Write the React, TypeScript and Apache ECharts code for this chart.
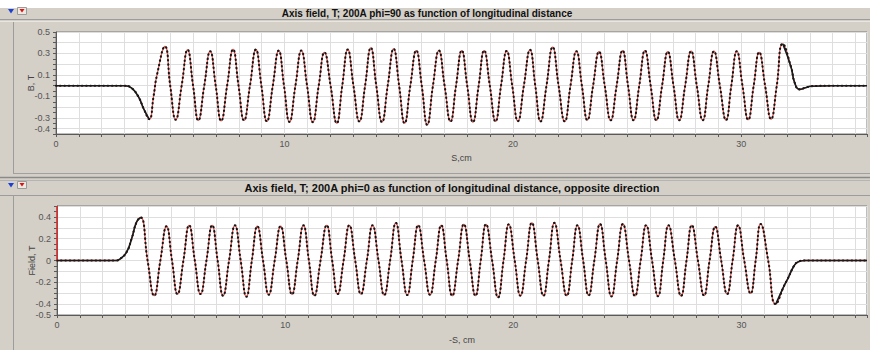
import React, { useEffect, useRef } from 'react';
import * as echarts from 'echarts';

const topTitle = 'Axis field, T; 200A phi=90 as function of longitudinal distance';
const bottomTitle = 'Axis field, T; 200A phi=0 as function of longitudinal distance, opposite direction';
const topYName = 'B, T';
const bottomYName = 'Field, T';
const topXName = 'S,cm';
const bottomXName = '-S, cm';
const xTickLabels = [0, 10, 20, 30];
const topYTickLabels = [0.5, 0.3, 0.1, -0.1, -0.3, -0.4];
const bottomYTickLabels = [0.4, 0.2, 0, -0.2, -0.4, -0.5];

// [S (cm), B (T)]
const topField: [number, number][] = [
  [0, 0], [1, 0], [2, 0], [3, 0], [3.3, -0.02], [3.6, -0.1], [3.85, -0.22], [4.08, -0.311], [4.27, -0.1], [4.42, 0.1], [4.77, 0.365],
  [5.0, 0], [5.24, -0.317], [5.5, 0], [5.76, 0.334],
  [6.0, 0], [6.23, -0.323], [6.49, 0], [6.75, 0.321],
  [6.99, 0], [7.23, -0.327], [7.49, 0], [7.75, 0.337],
  [7.99, 0], [8.23, -0.323], [8.49, 0], [8.75, 0.337],
  [8.99, 0], [9.23, -0.333], [9.49, 0], [9.75, 0.327],
  [9.98, 0], [10.22, -0.337], [10.48, 0], [10.74, 0.327],
  [10.99, 0], [11.24, -0.339], [11.5, 0], [11.75, 0.31],
  [12.02, 0], [12.29, -0.349], [12.53, 0], [12.77, 0.337],
  [13.02, 0], [13.28, -0.333], [13.53, 0], [13.78, 0.353],
  [14.02, 0], [14.27, -0.339], [14.52, 0], [14.78, 0.343],
  [15.02, 0], [15.26, -0.349], [15.51, 0], [15.77, 0.327],
  [16.01, 0], [16.25, -0.364], [16.5, 0], [16.76, 0.327],
  [17.01, 0], [17.27, -0.333], [17.51, 0], [17.76, 0.327],
  [18.0, 0], [18.25, -0.339], [18.5, 0], [18.74, 0.327],
  [18.99, 0], [19.24, -0.333], [19.48, 0], [19.73, 0.324],
  [19.97, 0], [20.22, -0.33], [20.48, 0], [20.75, 0.334],
  [20.98, 0], [21.21, -0.333], [21.47, 0], [21.74, 0.359],
  [22.0, 0], [22.27, -0.333], [22.52, 0], [22.78, 0.321],
  [23.02, 0], [23.26, -0.32], [23.51, 0], [23.77, 0.316],
  [24.02, 0], [24.28, -0.322], [24.54, 0], [24.8, 0.327],
  [25.04, 0], [25.28, -0.322], [25.53, 0], [25.78, 0.327],
  [26.03, 0], [26.28, -0.322], [26.53, 0], [26.78, 0.316],
  [27.03, 0], [27.28, -0.322], [27.54, 0], [27.8, 0.321],
  [28.05, 0], [28.31, -0.322], [28.55, 0], [28.8, 0.321],
  [29.06, 0], [29.33, -0.32], [29.56, 0], [29.8, 0.321],
  [30.05, 0], [30.3, -0.317], [30.54, 0], [30.78, 0.311],
  [31.04, 0], [31.3, -0.311], [31.55, 0], [31.81, 0.39],
  [32.18, 0.17], [32.33, 0.03], [32.54, -0.034], [32.8, -0.02], [33.05, -0.005], [34, 0], [35.5, 0],
];

// [-S (cm), Field (T)]
const bottomField: [number, number][] = [
  [0, 0], [1, 0], [2, 0], [2.6, 0], [2.77, 0.015], [3.05, 0.077], [3.27, 0.2], [3.49, 0.354], [3.67, 0.395],
  [3.97, 0], [4.26, -0.323], [4.53, 0], [4.8, 0.314],
  [5.04, 0], [5.28, -0.308], [5.54, 0], [5.79, 0.323],
  [6.04, 0], [6.29, -0.308], [6.55, 0], [6.8, 0.323],
  [7.04, 0], [7.28, -0.323], [7.54, 0], [7.8, 0.323],
  [8.05, 0], [8.3, -0.332], [8.54, 0], [8.78, 0.314],
  [9.03, 0], [9.28, -0.314], [9.54, 0], [9.8, 0.314],
  [10.05, 0], [10.3, -0.31], [10.55, 0], [10.8, 0.323],
  [11.04, 0], [11.28, -0.323], [11.55, 0], [11.82, 0.323],
  [12.06, 0], [12.3, -0.308], [12.56, 0], [12.81, 0.323],
  [13.07, 0], [13.32, -0.308], [13.58, 0], [13.83, 0.323],
  [14.09, 0], [14.34, -0.317], [14.6, 0], [14.85, 0.345],
  [15.1, 0], [15.35, -0.317], [15.59, 0], [15.83, 0.323],
  [16.09, 0], [16.35, -0.315], [16.6, 0], [16.84, 0.323],
  [17.08, 0], [17.32, -0.323], [17.58, 0], [17.83, 0.332],
  [18.09, 0], [18.34, -0.323], [18.57, 0], [18.8, 0.332],
  [19.07, 0], [19.33, -0.339], [19.57, 0], [19.8, 0.332],
  [20.06, 0], [20.31, -0.323], [20.56, 0], [20.81, 0.345],
  [21.07, 0], [21.32, -0.323], [21.56, 0], [21.8, 0.345],
  [22.07, 0], [22.34, -0.323], [22.58, 0], [22.81, 0.323],
  [23.06, 0], [23.3, -0.32], [23.55, 0], [23.8, 0.335],
  [24.05, 0], [24.3, -0.33], [24.55, 0], [24.8, 0.335],
  [25.07, 0], [25.33, -0.325], [25.58, 0], [25.82, 0.323],
  [26.08, 0], [26.34, -0.328], [26.57, 0], [26.8, 0.323],
  [27.08, 0], [27.35, -0.325], [27.59, 0], [27.82, 0.323],
  [28.09, 0], [28.36, -0.322], [28.6, 0], [28.85, 0.31],
  [29.11, 0], [29.37, -0.308], [29.61, 0], [29.85, 0.323],
  [30.12, 0], [30.4, -0.302], [30.62, 0], [30.84, 0.335],
  [31.17, 0], [31.5, -0.4], [31.87, -0.23], [32.02, -0.17], [32.31, -0.046], [32.46, -0.015], [32.75, 0], [34, 0], [35.5, 0],
];

// S ranges where the trace is drawn as a solid black line (no fit overlay)
const topSolidBefore = 4.08;
const topSolidAfter = 31.81;
const bottomSolidBefore = 3.67;
const bottomSolidAfter = 31.5;

const FONT = "'Liberation Sans', Arial, sans-serif";
const TITLE_FONT = "'Liberation Sans Narrow', 'Arial Narrow', 'Liberation Sans', sans-serif";
const PANEL = '#d4d0c8';
const GRIDLINE = '#dedede';
const AXIS = '#5a5a5a';

const near = (list: number[], v: number) => list.find((l) => Math.abs(l - v) < 1e-6);

function xAxis(gridIndex: number, name: string, gap: number) {
  return {
    type: 'value',
    gridIndex,
    min: 0,
    max: 35.5,
    interval: 1,
    name,
    nameLocation: 'middle',
    nameGap: gap,
    nameMoveOverlap: false,
    nameTextStyle: { fontSize: 9, color: '#444', fontFamily: FONT },
    axisLine: { show: true, onZero: false, lineStyle: { color: AXIS, width: 1 } },
    axisTick: { show: true, length: 3, lineStyle: { color: AXIS } },
    axisLabel: {
      fontSize: 9,
      color: '#555',
      fontFamily: FONT,
      margin: 5,
      formatter: (v: number) => {
        const l = near(xTickLabels, v);
        return l === undefined ? '' : String(l);
      },
    },
    splitLine: { show: true, lineStyle: { color: GRIDLINE, width: 1 } },
  };
}

function yAxis(gridIndex: number, name: string, min: number, max: number, labels: number[], colors: string[]) {
  return {
    type: 'value',
    gridIndex,
    min,
    max,
    interval: 0.05,
    name,
    nameLocation: 'middle',
    nameRotate: 90,
    nameGap: 21,
    nameMoveOverlap: false,
    nameTextStyle: { fontSize: 9, color: '#444', fontFamily: FONT },
    axisLine: { show: true, onZero: false, lineStyle: { color: AXIS, width: 1 } },
    axisTick: { show: true, length: 3, lineStyle: { color: AXIS } },
    axisLabel: {
      fontSize: 9,
      color: '#555',
      fontFamily: FONT,
      margin: 6,
      formatter: (v: number) => {
        const l = near(labels, v);
        return l === undefined ? '' : String(l);
      },
    },
    splitLine: { show: true, lineStyle: { color: colors, width: 1 } },
  };
}

function traceSeries(idx: number, data: [number, number][], before: number, after: number, extra: any = {}) {
  const solid = data.map((p) => (p[0] <= before || p[0] >= after ? p : '-'));
  return [
    {
      type: 'line',
      xAxisIndex: idx,
      yAxisIndex: idx,
      data,
      smooth: 0.5,
      showSymbol: false,
      silent: true,
      z: 3,
      lineStyle: { color: '#e35a55', width: 1.3 },
      ...extra,
    },
    {
      type: 'line',
      xAxisIndex: idx,
      yAxisIndex: idx,
      data,
      smooth: 0.5,
      showSymbol: false,
      silent: true,
      z: 4,
      lineStyle: { color: '#151515', width: 2.1, type: [0.5, 3.8], cap: 'round' },
    },
    {
      type: 'line',
      xAxisIndex: idx,
      yAxisIndex: idx,
      data: solid,
      connectNulls: false,
      smooth: 0.5,
      showSymbol: false,
      silent: true,
      z: 5,
      lineStyle: { color: '#1a1a1a', width: 1.6 },
    },
  ];
}

function frame(): any[] {
  const line = (x1: number, y1: number, x2: number, y2: number, stroke: string, lineWidth = 1) => ({
    type: 'line',
    z: -5,
    silent: true,
    shape: { x1, y1, x2, y2 },
    style: { stroke, lineWidth },
  });
  const icons = (y: number) => [
    { type: 'polygon', z: 10, silent: true, shape: { points: [[8, y], [14, y], [11, y + 4.5]] }, style: { fill: '#1a3fd6' } },
    { type: 'rect', z: 10, silent: true, shape: { x: 17.5, y: y - 1.5, width: 9, height: 7 }, style: { fill: '#ece9e2', stroke: '#9a9a9a', lineWidth: 1 } },
    { type: 'polygon', z: 11, silent: true, shape: { points: [[19.5, y], [24.5, y], [22, y + 3.5]] }, style: { fill: '#e01010' } },
  ];
  return [
    { type: 'rect', z: -6, silent: true, shape: { x: 0, y: 0, width: 870, height: 8 }, style: { fill: '#ffffff' } },
    line(0, 19.5, 870, 19.5, '#9c9c9c'),
    line(0, 21.5, 870, 21.5, '#e8e6e0'),
    line(13.5, 22, 13.5, 174, '#9c9c9c'),
    line(13, 173.5, 870, 173.5, '#a0a0a0'),
    line(0, 177.5, 870, 177.5, '#8a8a8a', 1.5),
    line(0, 180.5, 870, 180.5, '#b4b4b4'),
    line(0, 195.5, 870, 195.5, '#9c9c9c'),
    line(13.5, 196, 13.5, 350, '#9c9c9c'),
    ...icons(9),
    ...icons(183),
    {
      type: 'text',
      z: 10,
      silent: true,
      x: 427,
      y: 13.5,
      style: { text: topTitle, fill: '#111', font: `bold 10px ${TITLE_FONT}`, align: 'center', verticalAlign: 'middle' },
    },
    {
      type: 'text',
      z: 10,
      silent: true,
      x: 452,
      y: 188,
      style: { text: bottomTitle, fill: '#111', font: `bold 11px ${TITLE_FONT}`, align: 'center', verticalAlign: 'middle' },
    },
  ];
}

export default function App() {
  const ref = useRef<HTMLDivElement>(null);
  useEffect(() => {
    if (!ref.current) return;
    const chart = echarts.init(ref.current, null, { renderer: 'svg' });
    const option: any = {
      animation: false,
      backgroundColor: PANEL,
      grid: [
        { left: 56, top: 32, width: 811, height: 102, show: true, backgroundColor: '#ffffff', borderColor: '#7a7a7a', borderWidth: 1, containLabel: false },
        { left: 57, top: 206, width: 811, height: 109, show: true, backgroundColor: '#ffffff', borderColor: '#7a7a7a', borderWidth: 1, containLabel: false },
      ],
      xAxis: [xAxis(0, topXName, 19), xAxis(1, bottomXName, 20)],
      yAxis: [
        yAxis(0, topYName, -0.45, 0.5, topYTickLabels, ['rgba(0,0,0,0)', GRIDLINE]),
        yAxis(1, bottomYName, -0.5, 0.5, bottomYTickLabels, [GRIDLINE, 'rgba(0,0,0,0)']),
      ],
      graphic: frame(),
      series: [
        ...traceSeries(0, topField, topSolidBefore, topSolidAfter),
        ...traceSeries(1, bottomField, bottomSolidBefore, bottomSolidAfter, {
          markLine: {
            silent: true,
            symbol: 'none',
            label: { show: false },
            lineStyle: { color: '#e03030', width: 1.5, type: 'solid' },
            data: [[{ coord: [0, 0] }, { coord: [0, 0.5] }]],
          },
        }),
      ],
    };
    chart.setOption(option);
    return () => chart.dispose();
  }, []);
  return <div ref={ref} style={{ position: 'absolute', left: 0, top: 0, width: 870, height: 350 }} />;
}
